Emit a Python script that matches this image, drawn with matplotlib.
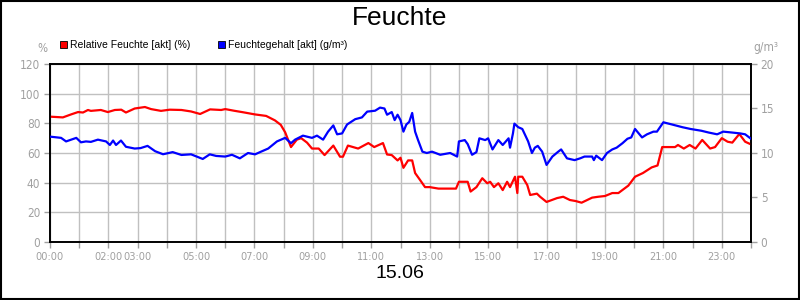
import matplotlib
matplotlib.use("Agg")
import matplotlib.pyplot as plt
from matplotlib.patches import Rectangle

# relative humidity (%), time in hours
rf_t = [0.0, 0.44, 0.72, 0.96, 1.13, 1.3, 1.4, 1.74, 1.98, 2.22, 2.44, 2.6, 2.9, 3.25, 3.46, 3.8,
        4.1, 4.5, 4.83, 5.14, 5.48, 5.86, 6.0, 6.3, 6.6, 7.02, 7.4, 7.7, 7.9, 8.05, 8.25, 8.45, 8.6,
        8.8, 8.97, 9.2, 9.4, 9.7, 9.93, 10.03, 10.2, 10.55, 10.9, 11.1, 11.4, 11.54, 11.7, 11.9,
        12.0, 12.1, 12.26, 12.4, 12.5, 12.67, 12.84, 13.0, 13.3, 13.6, 13.9, 14.0, 14.3, 14.4,
        14.6, 14.8, 14.97, 15.07, 15.2, 15.35, 15.5, 15.65, 15.75, 15.92, 16.0, 16.03, 16.17,
        16.34, 16.44, 16.67, 16.78, 17.0, 17.36, 17.57, 17.8, 18.0, 18.2, 18.56, 18.77, 19.0,
        19.25, 19.46, 19.8, 20.03, 20.3, 20.6, 20.8, 20.96, 21.4, 21.5, 21.7, 21.9, 22.1, 22.33,
        22.6, 22.77, 23.0, 23.2, 23.36, 23.6, 23.8, 24.0]
rf_v = [84.5, 84, 86, 87.6, 87.3, 89, 88.4, 89, 87.6, 89, 89.2, 87.3, 90, 91, 89.6, 88.4,
        89.2, 89, 88, 86.3, 89.4, 89, 89.6, 88.5, 87.5, 86, 85, 82, 79, 74, 64, 69, 70,
        67, 63, 63, 58.6, 65, 57.5, 57.5, 65, 63, 66.7, 64, 66.7, 59, 58.6, 55,
        56.8, 50, 55, 55, 46.5, 41.8, 37, 37, 36, 36, 36, 40.6, 40.6, 34,
        37, 43, 39.6, 40.6, 37, 39.6, 35, 40.6, 37, 44, 33, 44, 44,
        38.4, 31.7, 32.6, 30.5, 27, 29.6, 30.5, 28.3, 27.6, 26.5, 29.9, 30.5, 31,
        33, 33, 38, 44, 46.5, 50.3, 51.6, 64, 64, 65.4, 63, 65.4, 63, 68.8,
        63, 64, 70, 67.6, 67, 72.8, 67.6, 65.8]

# absolute humidity (g/m3), time in hours
fg_t = [0.0, 0.38, 0.55, 0.9, 1.06, 1.23, 1.4, 1.64, 1.92, 2.05, 2.16, 2.26, 2.43, 2.6, 2.9,
        3.1, 3.34, 3.6, 3.87, 4.2, 4.5, 4.83, 5.23, 5.47, 5.69, 6.0, 6.23, 6.5, 6.78, 7.02,
        7.26, 7.47, 7.77, 8.05, 8.25, 8.39, 8.66, 8.97, 9.14, 9.35, 9.52, 9.7, 9.83, 10.0,
        10.17, 10.45, 10.68, 10.86, 11.13, 11.3, 11.45, 11.54, 11.7, 11.8, 11.9, 12.0, 12.1,
        12.2, 12.3, 12.4, 12.5, 12.6, 12.75, 12.9, 13.08, 13.36, 13.7, 13.94, 14.0, 14.2,
        14.3, 14.45, 14.6, 14.7, 14.9, 15.0, 15.15, 15.35, 15.5, 15.7, 15.75, 15.85, 15.9,
        16.03, 16.17, 16.37, 16.5, 16.6, 16.7, 16.85, 17.0, 17.2, 17.4, 17.5, 17.7, 17.96,
        18.15, 18.3, 18.56, 18.62, 18.7, 18.9, 19.07, 19.25, 19.4, 19.6, 19.77, 19.9, 20.03,
        20.27, 20.44, 20.66, 20.78, 21.0, 21.3, 21.65, 21.93, 22.3, 22.55, 22.84, 23.05,
        23.35, 23.63, 23.8, 24.0]
fg_v = [11.84, 11.7, 11.3, 11.7, 11.2, 11.3, 11.25, 11.5, 11.3, 10.9, 11.4, 10.9, 11.4, 10.7, 10.5,
        10.55, 10.8, 10.2, 9.86, 10.1, 9.78, 9.85, 9.33, 9.85, 9.67, 9.6, 9.8, 9.4, 10.0, 9.85,
        10.2, 10.5, 11.3, 11.7, 11.1, 11.5, 11.95, 11.7, 11.95, 11.5, 12.4, 13.1, 12.1, 12.2,
        13.2, 13.8, 14.0, 14.65, 14.75, 15.1, 15.0, 14.3, 14.6, 13.7, 14.3, 13.7, 12.4,
        13.2, 13.5, 14.5, 12.4, 11.46, 10.15, 10.0, 10.15, 9.8, 10.0, 9.6, 11.3, 11.45,
        11.0, 9.8, 10.1, 11.65, 11.45, 11.65, 10.4, 11.45, 10.9, 11.65, 10.6, 12.2, 13.3,
        12.9, 12.7, 11.3, 10.0, 10.6, 10.8, 10.15, 8.66, 9.6, 10.15, 10.4, 9.4, 9.2,
        9.4, 9.6, 9.6, 9.2, 9.7, 9.2, 10.0, 10.4, 10.6, 11.1, 11.6, 11.75, 12.7,
        11.75, 12.1, 12.4, 12.4, 13.45, 13.2, 12.9, 12.7, 12.5, 12.3, 12.1, 12.4,
        12.3, 12.2, 12.1, 11.6]

x_labels = {0: "00:00", 2: "02:00", 3: "03:00", 5: "05:00", 7: "07:00", 9: "09:00",
            11: "11:00", 13: "13:00", 15: "15:00", 17: "17:00", 19: "19:00", 21: "21:00",
            23: "23:00"}

gray = "#a0a0a0"

fig = plt.figure(figsize=(8, 3), dpi=100)
ax = fig.add_axes([50 / 800, 1 - 242 / 300, 701 / 800, 178 / 300])
ax2 = ax.twinx()

ax.plot(rf_t, rf_v, color="#ff0000", lw=1.6, zorder=3)
ax2.plot(fg_t, fg_v, color="#0000ff", lw=1.6, zorder=3)

ax.set_xlim(0, 24)
ax.set_ylim(0, 120)
ax2.set_ylim(0, 20)
ax.set_xticks(range(25))
ax.set_xticklabels([x_labels.get(h, "") for h in range(25)])
ax.set_yticks(range(0, 121, 20))
ax2.set_yticks(range(0, 21, 5))
ax.grid(True, color="#c0c0c0", lw=1)
ax.set_axisbelow(True)

for a in (ax, ax2):
    a.tick_params(colors=gray, labelcolor=gray, length=4, width=1, labelsize=8.5, pad=3)
    for s in a.spines.values():
        s.set_color("black")
        s.set_linewidth(1.2)
    for lab in a.get_xticklabels() + a.get_yticklabels():
        lab.set_family("DejaVu Sans")
        lab.set_fontstretch("condensed")
ax.tick_params(axis="x", labelsize=7.8)

fig.text(0.5, 0.94, "Feuchte", ha="center", va="center", fontsize=19, family="Liberation Sans")
fig.text(0.5, 1 - 274 / 300, "15.06", ha="center", va="center", fontsize=14, family="Liberation Sans")
fig.text(42 / 800, 1 - 48 / 300, "%", ha="center", va="center", fontsize=8.5, color=gray,
         family="DejaVu Sans", fontstretch="condensed")
fig.text(766 / 800, 1 - 48 / 300, "g/m³", ha="center", va="center", fontsize=8.5, color=gray,
         family="DejaVu Sans", fontstretch="condensed")

# legend squares + text
for xs, col, txt in [(60, "#ff0000", "Relative Feuchte [akt] (%)"),
                     (218, "#0000ff", "Feuchtegehalt [akt] (g/m³)")]:
    fig.patches.append(Rectangle((xs / 800, 1 - 48 / 300), 7 / 800, 7 / 300, transform=fig.transFigure,
                                 facecolor=col, edgecolor="black", lw=0.6))
    fig.text((xs + 10) / 800, 1 - 44.5 / 300, txt, ha="left", va="center", fontsize=7.5,
             family="Liberation Sans")

fig.patches.append(Rectangle((0.001, 0.002), 0.998, 0.996, transform=fig.transFigure,
                             fill=False, edgecolor="black", lw=1.5))

fig.savefig("out.png", dpi=100)
